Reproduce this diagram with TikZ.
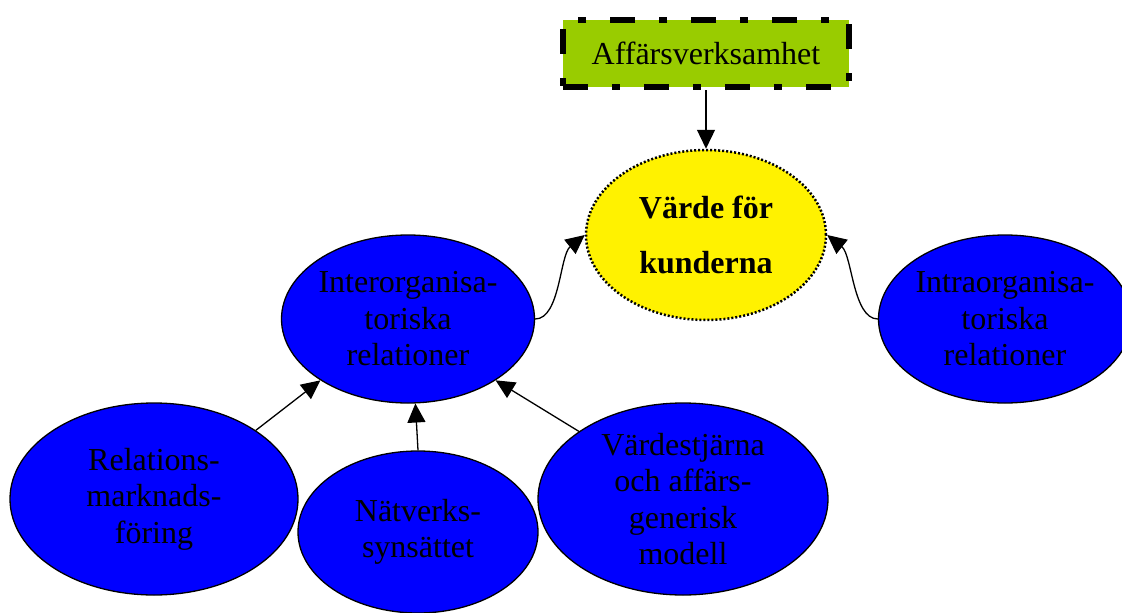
\documentclass[tikz,border=0pt]{standalone}
\usepackage{fontspec}
\setmainfont{Liberation Serif}
\usetikzlibrary{arrows.meta,shapes.geometric}
\definecolor{leafgreen}{HTML}{99CC00}
\begin{document}
\begin{tikzpicture}[x=1pt,y=-1pt,
    bubble/.style={ellipse, draw, line width=1.3pt, fill=blue, inner sep=0pt,
        align=center, font=\fontsize{32}{36.5}\selectfont},
    conn/.style={line width=1.3pt, -{Triangle[length=19pt,width=18pt]}}]
    \useasboundingbox (0,0) rectangle (1122,613);
    \node (biz) at (706,53.5) [rectangle, fill=leafgreen, draw, line width=6pt,
        dash pattern=on 25pt off 24pt on 8pt off 24pt,
        minimum width=286pt, minimum height=67pt,
        font=\fontsize{32}{36.5}\selectfont] {Affärsverksamhet};
    \node (value) at (706,235) [ellipse, draw, fill=yellow, line width=2.5pt,
        dash pattern=on 2pt off 2pt, minimum width=240pt, minimum height=170pt,
        inner sep=0pt, align=center, font=\fontsize{32}{55}\selectfont\bfseries]
        {Värde för\\kunderna};
    \node (inter) at (408,319) [bubble, minimum width=240pt, minimum height=168pt]
        {Interorganisa-\\toriska\\relationer};
    \node (intra) at (1005,319) [bubble, minimum width=234pt, minimum height=168pt]
        {Intraorganisa-\\toriska\\relationer};
    \node (relmark) at (154,499) [bubble, minimum width=288pt, minimum height=192pt]
        {Relations-\\marknads-\\föring};
    \node (network) at (418,532) [bubble, minimum width=240pt, minimum height=162pt]
        {Nätverks-\\synsättet};
    \node (valstar) at (683,499) [bubble, minimum width=290pt, minimum height=192pt]
        {Värdestjärna\\och affärs-\\generisk\\modell};

    \draw [conn] (biz.south) -- (value.north);
    \draw [conn] (inter.east) .. controls +(25,0) and +(-25,20) .. (value.west);
    \draw [conn] (intra.west) .. controls +(-25,0) and +(25,20) .. (value.east);
    \draw [conn] (relmark.34) -- (inter.215);
    \draw [conn] (network.north) -- (inter.275);
    \draw [conn] (valstar.147) -- (inter.325);
\end{tikzpicture}
\end{document}
